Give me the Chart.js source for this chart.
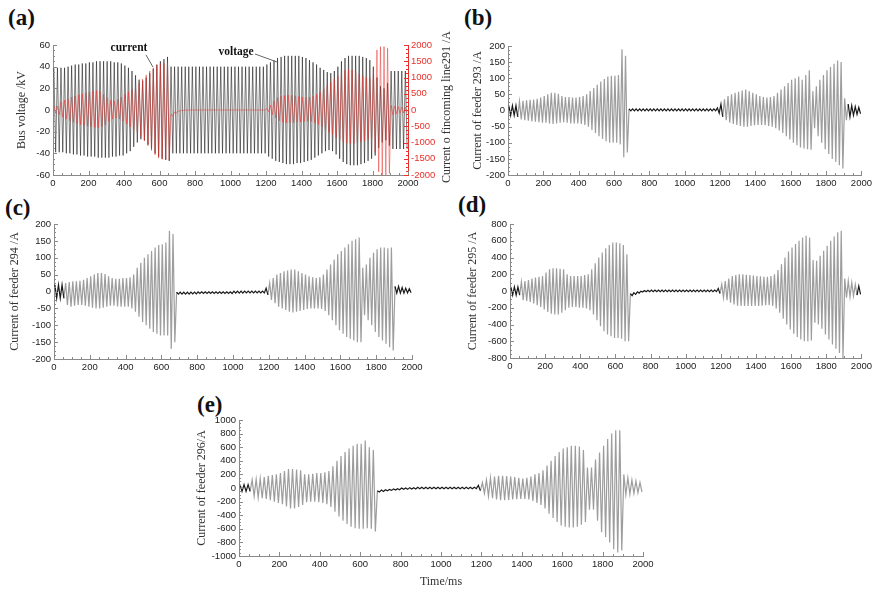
<!DOCTYPE html>
<html>
<head>
<meta charset="utf-8">
<script src="https://cdn.jsdelivr.net/npm/chart.js@4.4.0/dist/chart.umd.min.js"></script>
<style>
  body { margin: 0; background: #fff; width: 875px; height: 593px; position: relative; overflow: hidden; }
  canvas { position: absolute; }
  .lbl { position: absolute; font: bold 23px "Liberation Serif", serif; color: #111; line-height: 1; }
</style>
</head>
<body>
<div class="lbl" style="left:8px;top:6px">(a)</div>
<div class="lbl" style="left:464px;top:6px">(b)</div>
<div class="lbl" style="left:5px;top:196px">(c)</div>
<div class="lbl" style="left:458px;top:193px">(d)</div>
<div class="lbl" style="left:197px;top:393px">(e)</div>

<canvas id="ca" width="462" height="165" style="left:0;top:30px"></canvas>
<canvas id="cb" width="413" height="165" style="left:462px;top:30px"></canvas>
<canvas id="cc" width="440" height="170" style="left:0;top:205px"></canvas>
<canvas id="cd" width="420" height="170" style="left:455px;top:205px"></canvas>
<canvas id="ce" width="480" height="193" style="left:180px;top:400px"></canvas>

<script>
// one peak + one trough per 20 ms power-frequency cycle
const CYCLE = 20; // ms
const X_MIN = 0, X_MAX = 2000, X_STEP = 200;

/* ---------- (a) bus voltage, kV ---------- */
const aVoltHi = [
  39,39,39,39,40,41,42,42,43,43,
  44,44,45,45,45,45,45,44,44,43,
  41,39,36,32,28,27,30,34,38,42,
  45,47,49,40,40,40,40,40,40,40,
  40,40,40,40,40,40,40,40,40,40,
  40,40,40,40,40,40,40,40,40,40,
  42,44,46,48,49,50,50,50,50,50,
  49,48,46,44,42,39,37,35,34,36,
  40,45,48,50,50,50,50,49,48,46,
  40,30,22,20,25,36,36,36,36,36
];
const aVoltLo = [
  -39,-39,-39,-40,-40,-41,-41,-42,-42,-43,
  -43,-43,-44,-44,-44,-44,-43,-43,-42,-42,
  -40,-38,-34,-30,-27,-28,-32,-36,-40,-43,
  -45,-46,-47,-40,-40,-40,-40,-40,-40,-40,
  -40,-40,-40,-40,-40,-40,-40,-40,-40,-40,
  -40,-40,-40,-40,-40,-40,-40,-40,-40,-40,
  -43,-45,-47,-48,-49,-50,-50,-50,-49,-49,
  -48,-47,-46,-44,-42,-40,-38,-37,-38,-41,
  -45,-48,-50,-51,-51,-51,-50,-49,-47,-45,
  -42,-35,-30,-28,-33,-36,-36,-36,-36,-36
];
/* ---------- (a) incoming line 291 current, A ---------- */
const aCurHi = [
  150,120,250,300,350,400,430,470,500,520,
  550,580,600,560,480,380,300,280,320,400,
  480,560,620,700,820,950,1080,1200,1300,1380,
  1420,1440,1450,-120,-60,-20,-5,0,0,0,
  0,0,0,0,0,0,0,0,0,0,
  0,0,0,0,0,0,0,0,0,0,
  50,150,280,380,430,450,460,450,440,420,
  400,390,400,430,480,560,650,750,850,950,
  1050,1150,1220,1250,1230,1180,1100,1050,1000,980,
  1300,1850,1950,1950,1900,150,120,100,90,80
];
const aCurLo = [
  -100,-150,-220,-280,-330,-380,-420,-450,-480,-500,
  -520,-540,-550,-520,-450,-360,-280,-250,-280,-350,
  -430,-520,-600,-700,-820,-950,-1100,-1250,-1380,-1480,
  -1520,-1540,-1550,-200,-100,-40,-15,-5,0,0,
  0,0,0,0,0,0,0,0,0,0,
  0,0,0,0,0,0,0,0,0,0,
  -50,-150,-250,-330,-380,-400,-400,-390,-380,-370,
  -360,-350,-360,-400,-450,-520,-600,-680,-760,-850,
  -920,-980,-1020,-1040,-1030,-1000,-980,-950,-900,-880,
  -1300,-1900,-2000,-2000,-1950,-150,-120,-100,-90,-80
];
/* ---------- (b) feeder 293, A ---------- */
const bHi = [
  15,15,15,28,30,32,33,34,36,40,
  45,50,55,55,52,45,42,42,40,40,
  42,45,50,60,70,80,90,98,105,108,
  108,110,190,170,5,5,5,5,5,5,
  5,5,5,5,5,5,5,5,5,5,
  5,5,5,5,5,5,5,5,5,8,
  20,35,45,50,55,58,62,65,60,55,
  50,45,42,40,42,45,55,65,75,85,
  95,100,105,95,110,125,60,75,95,110,
  125,135,145,155,150,38,20,15,12,10
];
const bLo = [
  -15,-15,-20,-28,-30,-32,-34,-35,-36,-38,
  -38,-40,-42,-40,-38,-36,-38,-40,-40,-40,
  -42,-45,-50,-60,-70,-80,-88,-95,-100,-100,
  -100,-105,-145,-130,-1,-1,-1,-1,-1,-1,
  -1,-1,-1,-1,-1,-1,-1,-1,-1,-1,
  -1,-1,-1,-1,-1,-1,-1,-1,-1,-8,
  -20,-30,-38,-42,-45,-48,-50,-50,-48,-46,
  -45,-45,-46,-48,-50,-55,-62,-70,-80,-90,
  -100,-108,-115,-118,-120,-122,-55,-80,-100,-120,
  -135,-150,-160,-170,-180,-30,-20,-15,-12,-10
];
/* ---------- (c) feeder 294, A ---------- */
const cHi = [
  20,20,20,25,28,30,30,32,35,40,
  45,50,55,55,52,45,40,38,38,40,
  40,42,50,70,85,100,110,120,130,138,
  140,145,180,170,-2,-2,-2,-2,-2,-2,
  -1,-1,-1,-1,-1,-1,-1,-1,-1,-1,
  1,1,1,1,1,1,1,1,1,10,
  25,40,50,55,60,62,65,65,60,55,
  50,45,42,40,42,50,65,80,95,110,
  120,130,140,150,155,160,70,80,100,115,
  125,130,130,128,130,15,15,12,10,8
];
const cLo = [
  -20,-20,-20,-40,-45,-42,-40,-40,-42,-45,
  -48,-50,-50,-48,-45,-42,-42,-44,-45,-45,
  -45,-50,-60,-75,-90,-100,-110,-120,-125,-130,
  -130,-130,-170,-150,-8,-8,-8,-8,-7,-7,
  -6,-6,-6,-6,-6,-6,-6,-6,-6,-6,
  -5,-5,-5,-4,-4,-4,-4,-4,-4,-10,
  -25,-35,-45,-50,-55,-60,-62,-60,-58,-55,
  -52,-50,-50,-50,-52,-58,-70,-85,-100,-115,
  -125,-135,-140,-145,-150,-150,-70,-85,-100,-120,
  -135,-145,-155,-165,-175,-5,-5,-5,-4,-4
];
/* ---------- (d) feeder 295, A ---------- */
const dHi = [
  50,50,50,110,120,130,150,160,170,180,
  220,260,270,270,265,260,200,180,180,180,
  180,190,200,260,330,400,460,510,550,580,
  580,570,550,440,-30,-20,-10,-2,5,8,
  10,10,10,10,10,10,10,10,10,10,
  10,10,10,10,10,10,10,10,10,30,
  80,120,150,180,190,200,200,195,190,185,
  180,175,170,170,180,200,250,320,400,470,
  520,560,600,640,660,640,370,360,420,480,
  540,600,650,700,720,150,120,100,80,60
];
const dLo = [
  -50,-50,-50,-110,-120,-130,-150,-170,-190,-220,
  -250,-270,-280,-280,-260,-230,-200,-190,-190,-200,
  -200,-210,-230,-280,-350,-420,-480,-520,-540,-560,
  -560,-570,-600,-600,-55,-40,-25,-12,-8,-8,
  -8,-8,-8,-8,-8,-8,-8,-8,-8,-8,
  -8,-8,-8,-8,-8,-8,-8,-8,-8,-30,
  -80,-110,-140,-160,-175,-180,-180,-180,-180,-180,
  -180,-175,-170,-170,-180,-210,-260,-330,-400,-460,
  -510,-550,-580,-600,-600,-590,-380,-400,-450,-520,
  -580,-640,-690,-740,-800,-80,-70,-60,-50,-40
];
/* ---------- (e) feeder 296, A ---------- */
const eHi = [
  50,50,50,120,130,140,160,180,190,200,
  220,250,280,280,270,260,200,200,210,220,
  220,230,250,320,400,470,530,580,620,650,
  650,700,600,560,-40,-30,-25,-20,-15,-10,
  0,0,5,5,10,10,10,10,10,10,
  10,10,10,10,10,10,10,10,10,40,
  80,120,150,170,180,180,175,170,160,150,
  140,150,170,200,220,260,330,400,470,530,
  580,600,620,620,610,560,300,300,420,520,
  620,720,800,850,850,200,150,120,100,80
];
const eLo = [
  -50,-50,-50,-120,-140,-150,-160,-180,-200,-220,
  -240,-270,-300,-300,-280,-250,-210,-200,-200,-210,
  -220,-240,-280,-350,-420,-480,-530,-570,-590,-600,
  -600,-590,-600,-640,-60,-50,-40,-35,-30,-25,
  -20,-20,-15,-15,-10,-10,-10,-10,-10,-10,
  -10,-10,-10,-10,-10,-10,-10,-10,-10,-40,
  -80,-120,-150,-170,-180,-180,-175,-170,-165,-160,
  -160,-170,-190,-220,-250,-300,-380,-440,-500,-550,
  -570,-580,-580,-570,-540,-500,-320,-320,-480,-650,
  -720,-800,-900,-950,-920,-100,-90,-80,-70,-60
];

/* ---------- HELPERS ---------- */
function wave(hi, lo) {
  const pts = [];
  for (let k = 0; k < hi.length; k++) {
    pts.push({ x: k * CYCLE + CYCLE / 4, y: hi[k] });
    pts.push({ x: k * CYCLE + (3 * CYCLE) / 4, y: lo[k] });
  }
  return pts;
}

const TICK_FONT = { family: "Liberation Sans", size: 9.5 };
const TITLE_FONT = { family: "Liberation Serif", size: 12 };
const AXIS_COLOR = "#8a8a8a";
const RED = "#e8302a";
const plain = (v) => String(v); // no thousands separators

// short tick marks drawn inward, majors at labels, 3 minors between
const innerTicks = {
  id: "innerTicks",
  afterDraw(chart) {
    const ctx = chart.ctx, a = chart.chartArea;
    ctx.save();
    ctx.lineWidth = 1;
    Object.values(chart.scales).forEach((s) => {
      const step = s.options.ticks.stepSize / 4;
      ctx.strokeStyle = s.options.border.color;
      let i = 0;
      for (let v = s.min; v <= s.max + 1e-6; v += step, i++) {
        const len = i % 4 === 0 ? 4 : 2;
        const p = Math.round(s.getPixelForValue(v)) + 0.5;
        ctx.beginPath();
        if (s.axis === "x") { ctx.moveTo(p, a.bottom); ctx.lineTo(p, a.bottom - len); }
        else if (s.position === "left") { ctx.moveTo(a.left, p); ctx.lineTo(a.left + len, p); }
        else { ctx.moveTo(a.right, p); ctx.lineTo(a.right - len, p); }
        ctx.stroke();
      }
    });
    ctx.restore();
  },
};

// labels, arrows and the right-hand title of panel (a)
const panelAExtras = {
  id: "panelAExtras",
  afterDraw(chart) {
    const { ctx, chartArea: a } = chart;
    const x = chart.scales.x, y = chart.scales.y;
    ctx.save();
    ctx.fillStyle = "#111";
    ctx.textAlign = "center";
    ctx.textBaseline = "middle";
    ctx.font = 'bold 11.5px "Liberation Serif"';
    ctx.fillText("current", x.getPixelForValue(428), y.getPixelForValue(57));
    ctx.fillText("voltage", x.getPixelForValue(1031), y.getPixelForValue(53.5));
    ctx.strokeStyle = "#666";
    ctx.lineWidth = 1;
    ctx.beginPath();
    ctx.moveTo(x.getPixelForValue(524), y.getPixelForValue(50.8));
    ctx.lineTo(x.getPixelForValue(563), y.getPixelForValue(39.7));
    ctx.moveTo(x.getPixelForValue(1138), y.getPixelForValue(51.7));
    ctx.lineTo(x.getPixelForValue(1262), y.getPixelForValue(44.3));
    ctx.stroke();
    ctx.translate(447, (a.top + a.bottom) / 2 - 3);
    ctx.rotate(-Math.PI / 2);
    ctx.font = '12px "Liberation Serif"';
    ctx.fillStyle = "#333";
    ctx.fillText("Current o fincoming line291 /A", 0, 0);
    ctx.restore();
  },
};

function yAxis(min, max, step, width, title, position, color) {
  return {
    type: "linear",
    position: position,
    min: min,
    max: max,
    afterFit: (s) => { s.width = width; },
    grid: { display: false, drawTicks: false },
    border: { display: true, color: color || AXIS_COLOR },
    ticks: { stepSize: step, font: TICK_FONT, color: color || "#222", padding: 3, autoSkip: false, callback: plain },
    title: { display: !!title, text: title, font: TITLE_FONT, color: "#333", padding: { top: 4, bottom: 4 } },
  };
}

function xAxis(height, title) {
  return {
    type: "linear",
    min: X_MIN,
    max: X_MAX,
    afterFit: (s) => { s.height = height; },
    grid: { display: false, drawTicks: false },
    border: { display: true, color: AXIS_COLOR },
    ticks: { stepSize: X_STEP, font: TICK_FONT, color: "#222", padding: 3, maxRotation: 0, autoSkip: false, callback: plain },
    title: { display: !!title, text: title, font: TITLE_FONT, color: "#333", padding: { top: 2, bottom: 4 } },
  };
}

// quiet stretches of a feeder trace look like a dense black band in the figure
function quietDark(limit, loud) {
  return {
    borderColor: (c) =>
      Math.max(Math.abs(c.p0.parsed.y), Math.abs(c.p1.parsed.y)) <= limit ? "rgba(0,0,0,0.9)" : loud,
  };
}

function traceSet(hi, lo, color, extra) {
  return Object.assign({
    data: wave(hi, lo),
    borderColor: color,
    borderWidth: 1,
    pointRadius: 0,
    tension: 0,
    fill: false,
  }, extra || {});
}

function makeChart(id, datasets, scales, padding, plugins) {
  return new Chart(document.getElementById(id), {
    type: "line",
    data: { datasets: datasets },
    options: {
      responsive: false,
      animation: false,
      events: [],
      layout: { padding: padding },
      plugins: { legend: { display: false }, tooltip: { enabled: false } },
      scales: scales,
    },
    plugins: [innerTicks].concat(plugins || []),
  });
}

/* ---------- BUILD ---------- */
const FEEDER = "rgba(60,60,60,0.5)";

makeChart("ca", [
  traceSet(aCurHi, aCurLo, "rgba(232,48,42,0.5)", { yAxisID: "y2", order: 0 }),
  traceSet(aVoltHi, aVoltLo, "rgba(0,0,0,0.5)", { yAxisID: "y", order: 1 }),
], {
  x: xAxis(20),
  y: yAxis(-60, 60, 20, 42, "Bus voltage /kV", "left"),
  y2: yAxis(-2000, 2000, 500, 54, "", "right", RED),
}, { left: 11, top: 15, right: 0, bottom: 0 }, [panelAExtras]);

makeChart("cb", [traceSet(bHi, bLo, FEEDER, { segment: quietDark(20, FEEDER), borderWidth: 1.2 })], {
  x: xAxis(20),
  y: yAxis(-200, 200, 50, 41, "Current of feeder 293 /A", "left"),
}, { left: 5, top: 16, right: 13, bottom: 0 });

makeChart("cc", [traceSet(cHi, cLo, FEEDER, { segment: quietDark(20, FEEDER), borderWidth: 1.2 })], {
  x: xAxis(16),
  y: yAxis(-200, 200, 50, 50, "Current of feeder 294 /A", "left"),
}, { left: 4, top: 19, right: 28, bottom: 0 });

makeChart("cd", [traceSet(dHi, dLo, FEEDER, { segment: quietDark(60, FEEDER), borderWidth: 1.2 })], {
  x: xAxis(17),
  y: yAxis(-800, 800, 200, 48, "Current of feeder 295 /A", "left"),
}, { left: 7, top: 19, right: 13, bottom: 0 });

makeChart("ce", [traceSet(eHi, eLo, FEEDER, { segment: quietDark(60, FEEDER), borderWidth: 1.2 })], {
  x: xAxis(37, "Time/ms"),
  y: yAxis(-1000, 1000, 200, 48, "Current of feeder 296/A", "left"),
}, { left: 11, top: 20, right: 17, bottom: 0 });
</script>
</body>
</html>
